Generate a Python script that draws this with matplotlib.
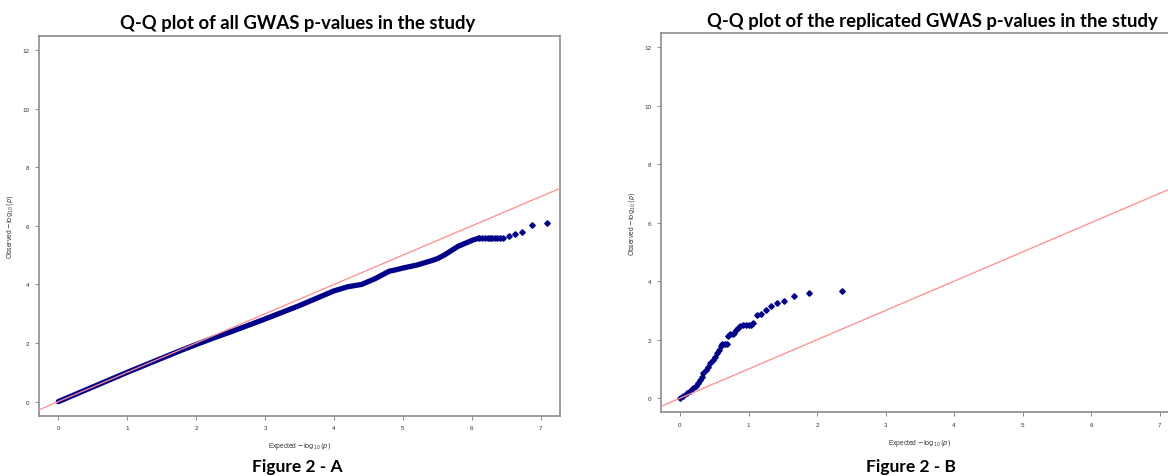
import numpy as np
import matplotlib
matplotlib.use('Agg')
import matplotlib.pyplot as plt

plt.rcParams['font.family'] = ['Liberation Sans', 'DejaVu Sans']

# Figure 2 - A : all GWAS p-values (dense part read as a band, tail as points)
a_dense_x = [0, 0.25, 0.5, 0.75, 1.0, 1.25, 1.5, 1.75, 2.0, 2.25, 2.5, 2.75,
             3.0, 3.25, 3.5, 3.75, 4.0, 4.2, 4.4, 4.6, 4.8, 4.9, 5.0, 5.2,
             5.4, 5.5, 5.6, 5.7, 5.8, 5.9, 6.0, 6.1]
a_dense_y = [0, 0.25, 0.5, 0.75, 1.0, 1.24, 1.48, 1.72, 1.95, 2.17, 2.38, 2.6,
             2.82, 3.05, 3.28, 3.53, 3.78, 3.92, 4.0, 4.2, 4.45, 4.5, 4.56, 4.66,
             4.8, 4.88, 5.0, 5.15, 5.3, 5.4, 5.5, 5.58]
a_tail_x = [6.11, 6.15, 6.19, 6.23, 6.26, 6.30, 6.33, 6.37, 6.41, 6.46,
            6.54, 6.62, 6.73, 6.88, 7.09]
a_tail_y = [5.59, 5.59, 5.59, 5.59, 5.59, 5.59, 5.59, 5.59, 5.59, 5.59,
            5.65, 5.73, 5.79, 6.03, 6.09]

# Figure 2 - B : replicated GWAS p-values
b_x = [0, 0.05, 0.10, 0.15, 0.19, 0.23, 0.27, 0.29, 0.32, 0.34, 0.38, 0.41,
       0.44, 0.48, 0.51, 0.54, 0.57, 0.60, 0.62, 0.66, 0.68, 0.70, 0.73, 0.77,
       0.79, 0.82, 0.85, 0.88, 0.92, 0.96, 1.00, 1.03, 1.07, 1.13, 1.18, 1.25,
       1.33, 1.41, 1.52, 1.66, 1.88, 2.36]
b_y = [0, 0.09, 0.17, 0.25, 0.34, 0.42, 0.51, 0.63, 0.74, 0.85, 0.97, 1.08,
       1.19, 1.31, 1.40, 1.53, 1.65, 1.80, 1.86, 1.86, 1.86, 2.13, 2.18, 2.18,
       2.22, 2.33, 2.41, 2.47, 2.49, 2.49, 2.49, 2.51, 2.58, 2.84, 2.88, 3.01,
       3.16, 3.24, 3.33, 3.49, 3.59, 3.67]

titles = ['Q-Q plot of all GWAS p-values in the study',
          'Q-Q plot of the replicated GWAS p-values in the study']
captions = ['Figure 2 - A', 'Figure 2 - B']
x_ticks = [0, 1, 2, 3, 4, 5, 6, 7]
y_ticks = [0, 2, 4, 6, 8, 10, 12]

W, H = 1168, 477
fig = plt.figure(figsize=(W / 100, H / 100), dpi=100)

navy = '#00008B'
red = '#FF8C8C'
frame = '#8C8C8C'


def setup(ax):
    ax.set_xlim(-0.28, 7.28)
    ax.set_ylim(-0.48, 12.48)
    ax.set_xticks(x_ticks)
    ax.set_yticks(y_ticks)
    ax.tick_params(length=3, width=0.7, color=frame, labelsize=4.5,
                   labelcolor='#333333', pad=4)
    for s in ax.spines.values():
        s.set_color(frame)
        s.set_linewidth(1.2)
    ax.set_xlabel(r'Expected $-\log_{10}(p)$', fontsize=4.8, color='#333333', labelpad=7)
    ax.set_ylabel(r'Observed $-\log_{10}(p)$', fontsize=4.8, color='#333333', labelpad=5)
    ax.axline((0, 0), slope=1, color=red, lw=0.9, zorder=3)


axA = fig.add_axes([39 / W, 1 - 416.7 / H, 521 / W, 379.7 / H])
axA.plot(a_dense_x, a_dense_y, color=navy, lw=3.8, solid_capstyle='round',
         solid_joinstyle='round', zorder=2)
axA.plot(a_tail_x, a_tail_y, 'D', color=navy, ms=2.8, lw=0, zorder=2)
setup(axA)

axB = fig.add_axes([660.8 / W, 1 - 413.3 / H, 518 / W, 379.3 / H])
axB.plot(b_x, b_y, 'D', color=navy, ms=2.8, lw=0, zorder=2)
setup(axB)
axB.spines['right'].set_visible(False)

tfont = ['Lato', 'DejaVu Sans']
fig.text(298 / W, 1 - 23 / H, titles[0], ha='center', va='center',
         fontsize=13.3, fontweight='bold', family=tfont)
fig.text(932 / W, 1 - 21 / H, titles[1], ha='center', va='center',
         fontsize=13.3, fontweight='bold', family=tfont)
fig.text(297 / W, 1 - 467 / H, captions[0], ha='center', va='center',
         fontsize=12.5, fontweight='bold', family=tfont)
fig.text(911 / W, 1 - 467 / H, captions[1], ha='center', va='center',
         fontsize=12.5, fontweight='bold', family=tfont)

fig.savefig('out.png', dpi=100)
